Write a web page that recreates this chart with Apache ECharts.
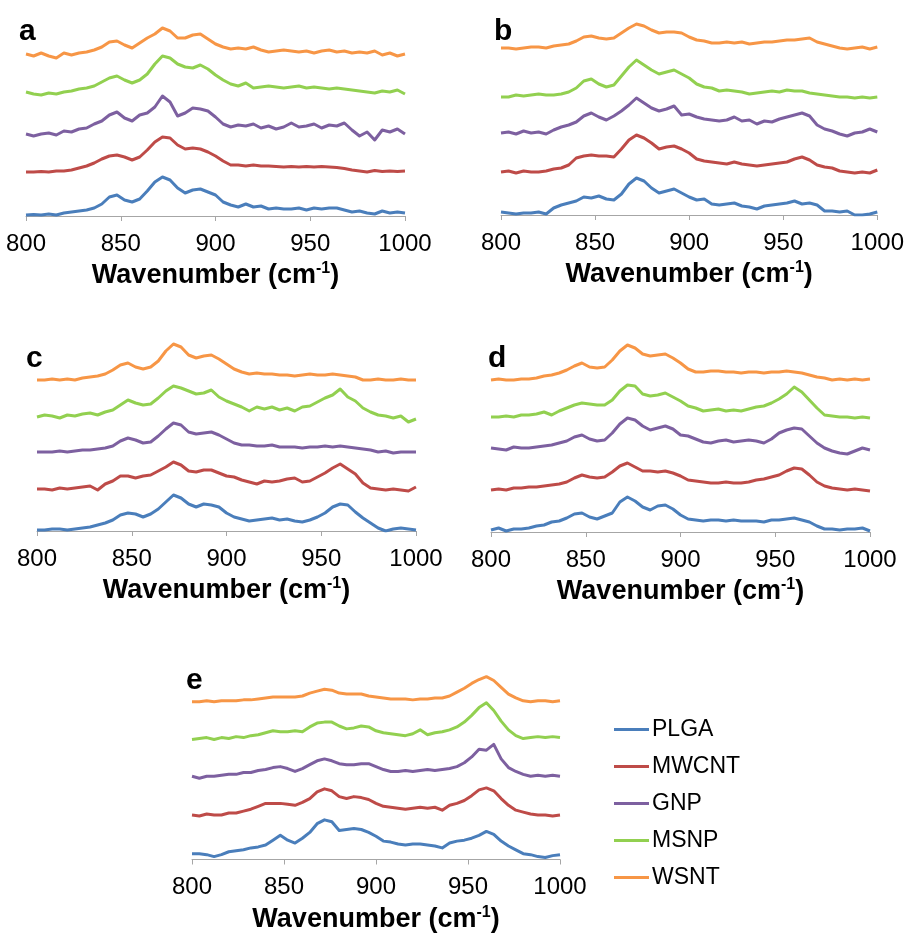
<!DOCTYPE html>
<html>
<head>
<meta charset="utf-8">
<script src="https://cdn.jsdelivr.net/npm/echarts@6/dist/echarts.min.js"></script>
<style>
html,body{margin:0;padding:0;background:#fff;}
#chart{width:907px;height:934px;}
</style>
</head>
<body>
<div id="chart"></div>
<script>
// Wavenumber (cm-1)
var wavenumber = [800,804,808,812,816,820,824,828,832,836,840,844,848,852,856,860,864,868,872,876,880,884,888,892,896,900,904,908,912,916,920,924,928,932,936,940,944,948,952,956,960,964,968,972,976,980,984,988,992,996,1000];
var xTicks = [800, 850, 900, 950, 1000];
var seriesNames = ['PLGA', 'MWCNT', 'GNP', 'MSNP', 'WSNT'];
var panelLabels = ['a', 'b', 'c', 'd', 'e'];

// Panel a (offset intensities, a.u.)
var a_PLGA  = [1,1.5,1,2,1,3,4,5,6,8,12,19,21,16,14,17,25,34,39,36,28,23,26,27,24,21,14,11,9,12,9,10,7,8,7,7,8,6,8,7,8,8,6,4,5,3,2,5,3,4,3];
var a_MWCNT = [44,44,44.5,44,45,45,46,48,50,53,57,60,61,59,56,59,66,74,79,78,71,67,68,67,64,60,55,51,51,50,51,50,50,49.5,49,49.5,49,49.5,49,49.5,49,48.5,47.5,46,45,44,45.5,44.5,45,44.5,45];
var a_GNP   = [82,80,82,83,81,85,84,87,88,92,95,101,104,98,95,101,103,109,120,114,100,103,108,107,105,99,92,89,91,90,92,88,90,87,89,93,89,90,92,88,91,90,93,86,80,84,76,86,84,87,82];
var a_MSNP  = [124,122,121,123,122,124,125,127,128,130,134,138,140,136,133,136,142,152,160,158,152,149,148,151,147,141,136,132,130,133,128,129,130,129,128,129,130,128,129,128,127,128,127,126,125,124,123,125,124,126,122];
var a_WSNT  = [162,160,163,160,158,163,161,163,164,166,169,174,175,171,168,173,178,182,188,185,178,178,181,182,177,172,169,167,168,167,169,166,164,165,166,165,164,165,163,165,166,164,165,163,164,163,165,161,163,160,162];

// Panel b
var b_PLGA  = [3,2,1,2,2,3,1,7,10,12,14,18,17,19,16,15,21,31,37,34,27,22,24,26,22,18,15,16,11,10,11,12,9,8,6,9,10,11,12,14,11,12,10,4,4,3,4,0,0,1,3];
var b_MWCNT = [43,44,42,44,43,43,44,46,47,50,57,59,60,59,59,58,66,75,80,77,72,66,68,69,66,62,56,54,53,52,51,53,51,50,49,50,51,52,53,56,58,55,50,48,47,44,43,42,43,42,45];
var b_GNP   = [82,83,81,84,82,83,81,85,88,90,93,99,102,98,95,99,104,110,117,112,107,104,106,109,100,101,98,96,95,94,95,98,94,95,91,94,93,96,98,100,102,99,90,86,84,81,79,82,83,86,83];
var b_MSNP  = [118,118,120,119,120,121,120,120,121,123,127,134,136,131,128,130,139,148,155,150,145,141,143,145,141,137,131,128,127,124,125,124,123,121,122,123,124,123,125,124,124,122,121,120,119,118,118,117,118,117,118];
var b_WSNT  = [167,167,166,167,168,168,167,169,170,171,174,178,179,177,176,177,182,187,191,189,185,182,183,183,182,178,175,174,172,172,173,172,173,171,172,173,173,174,175,175,176,177,173,171,169,167,166,167,168,166,168];

// Panel c
var c_PLGA  = [1,1,2,2,1,2,3,4,6,8,11,16,18,17,14,17,22,29,36,33,27,24,27,26,24,18,14,12,10,11,12,13,11,12,10,9,11,14,18,24,27,26,19,13,8,3,0,2,3,2,1];
var c_MWCNT = [42,42,41,43,42,43,44,45,41,47,50,55,55,53,55,56,60,64,69,66,60,59,61,61,58,55,54,51,49,47,50,49,50,52,53,49,50,54,58,63,67,62,57,48,43,42,41,42,41,40,44];
var c_GNP   = [79,79,79,80,79,80,81,81,82,83,85,90,93,91,88,89,95,102,108,106,99,97,98,99,96,92,88,86,86,85,85,86,84,84,84,83,84,84,85,84,85,84,83,82,81,79,80,78,79,79,79];
var c_MSNP  = [114,116,115,113,116,115,117,118,116,119,121,126,131,128,126,127,133,140,145,143,140,137,138,141,134,130,127,124,120,124,122,124,121,123,120,124,125,129,133,136,142,134,130,123,119,116,115,113,115,109,112];
var c_WSNT  = [151,151,152,151,152,151,153,154,155,157,161,166,168,164,162,164,170,180,187,184,176,173,175,176,172,167,162,159,157,158,157,157,156,156,155,156,157,156,156,157,156,155,154,151,151,152,151,151,152,151,151];

// Panel d
var d_PLGA  = [2,4,1,3,3,4,6,7,10,11,14,18,19,15,13,16,19,30,35,31,25,22,26,27,23,17,13,12,11,12,12,11,12,11,11,11,10,12,12,13,14,12,10,6,3,3,2,3,3,4,1];
var d_MWCNT = [42,43,42,44,44,45,45,46,47,48,50,54,57,55,54,55,60,66,69,65,61,61,60,61,59,56,52,51,50,49,49,50,49,49,50,52,53,55,57,61,64,63,57,50,46,44,43,42,43,42,41];
var d_GNP   = [84,83,82,85,84,84,85,86,87,89,91,95,97,93,91,92,99,108,114,112,106,102,104,106,103,97,96,93,90,89,91,92,90,91,92,91,89,93,99,102,104,103,96,89,84,81,79,78,81,84,82];
var d_MSNP  = [115,115,116,115,117,117,118,120,117,121,124,127,129,128,127,127,132,141,147,146,138,136,137,139,135,131,126,124,121,122,123,121,122,121,123,125,126,129,133,138,145,140,132,124,117,116,115,115,114,115,114];
var d_WSNT  = [152,153,152,152,153,153,154,156,157,159,162,166,169,165,164,165,172,181,187,184,178,176,177,178,174,169,163,160,160,161,161,160,160,159,160,160,159,160,160,161,160,159,157,155,154,152,153,152,153,152,153];

// Panel e
var e_PLGA  = [6,6,5,3,5,8,9,10,12,13,15,20,25,20,17,22,28,37,41,39,30,31,32,31,28,24,19,18,16,15,16,16,15,14,12,17,19,20,22,25,29,26,19,14,10,6,5,3,2,4,5];
var e_MWCNT = [46,45,47,46,46,48,48,50,52,55,58,58,58,57,56,59,63,70,73,71,65,63,65,64,62,58,55,54,53,52,53,54,53,54,51,56,58,61,66,72,74,71,63,56,51,49,47,46,46,45,46];
var e_GNP   = [86,84,86,86,87,88,88,90,90,92,93,95,96,94,91,94,98,102,104,102,99,98,98,99,99,96,93,91,91,92,91,92,93,92,93,94,96,100,106,114,113,119,104,95,91,88,86,87,86,87,86];
var e_MSNP  = [124,125,126,124,126,125,127,126,128,129,131,133,132,132,133,132,137,141,142,142,138,135,136,138,137,133,131,130,129,128,130,134,129,131,132,134,137,142,149,157,162,154,143,134,128,125,126,127,126,127,126];
var e_WSNT  = [163,163,164,163,164,164,164,165,165,166,167,168,168,168,168,169,172,174,176,175,172,171,171,171,169,168,167,166,166,166,165,166,166,167,167,169,173,177,182,186,189,185,178,171,167,164,163,164,164,163,164];

var panelData = [
  [a_PLGA, a_MWCNT, a_GNP, a_MSNP, a_WSNT],
  [b_PLGA, b_MWCNT, b_GNP, b_MSNP, b_WSNT],
  [c_PLGA, c_MWCNT, c_GNP, c_MSNP, c_WSNT],
  [d_PLGA, d_MWCNT, d_GNP, d_MSNP, d_WSNT],
  [e_PLGA, e_MWCNT, e_GNP, e_MSNP, e_WSNT]
];

var colors = ['#4A7EBB', '#BE4B48', '#7D60A0', '#92D050', '#F79646'];
var FONT = '"Liberation Sans", Arial, sans-serif';

var grids = [
  {left: 26, top: 16, width: 379, height: 200},
  {left: 501, top: 15, width: 379, height: 200},
  {left: 37, top: 331, width: 379, height: 200},
  {left: 491, top: 332, width: 379, height: 200},
  {left: 192, top: 666, width: 368, height: 200}
];
var letterPos = [[19, 17], [494, 17], [26, 344], [488, 344], [186, 666]];

var xAxes = [], yAxes = [], series = [], titles = [];
grids.forEach(function (g, p) {
  xAxes.push({
    gridIndex: p, type: 'value', min: xTicks[0], max: xTicks[xTicks.length - 1], interval: xTicks[1] - xTicks[0],
    axisLine: {show: true, lineStyle: {color: '#A6A6A6', width: 1}},
    axisTick: {show: true, length: 5, lineStyle: {color: '#A6A6A6'}},
    splitLine: {show: false},
    axisLabel: {fontSize: 24, color: '#000', fontFamily: FONT, margin: 16,
      formatter: function (v) { return String(v); }},
    name: '{t|Wavenumber (cm}{s|-1}{t|)}',
    nameLocation: 'middle', nameGap: 45,
    nameTextStyle: {
      rich: {
        t: {fontSize: 27, fontWeight: 'bold', color: '#000', fontFamily: FONT, lineHeight: 30},
        s: {fontSize: 16, fontWeight: 'bold', color: '#000', fontFamily: FONT, verticalAlign: 'top', lineHeight: 30, padding: [0, 0, 8, 0]}
      }
    }
  });
  yAxes.push({gridIndex: p, type: 'value', min: 0, max: 200, show: false});
  titles.push({
    text: panelLabels[p], left: letterPos[p][0], top: letterPos[p][1], padding: 0,
    textStyle: {fontSize: 30, fontWeight: 'bold', color: '#000', fontFamily: FONT}
  });
  panelData[p].forEach(function (vals, s) {
    series.push({
      name: seriesNames[s], type: 'line', xAxisIndex: p, yAxisIndex: p,
      data: wavenumber.map(function (x, i) { return [x, vals[i]]; }),
      showSymbol: false, symbol: 'none', smooth: false,
      lineStyle: {color: colors[s], width: 3, join: 'round'},
      itemStyle: {color: colors[s]},
      animation: false, silent: true
    });
  });
});

var chart = echarts.init(document.getElementById('chart'), null, {renderer: 'canvas'});
chart.setOption({
  backgroundColor: '#fff',
  animation: false,
  title: titles,
  grid: grids,
  xAxis: xAxes,
  yAxis: yAxes,
  legend: {
    data: seriesNames, orient: 'vertical', left: 609, top: 713,
    icon: 'rect', itemWidth: 35, itemHeight: 3, itemGap: 14,
    textStyle: {fontSize: 23, color: '#000', fontFamily: FONT, padding: [0, 0, 0, -2]},
    selectedMode: false
  },
  series: series
});
</script>
</body>
</html>
